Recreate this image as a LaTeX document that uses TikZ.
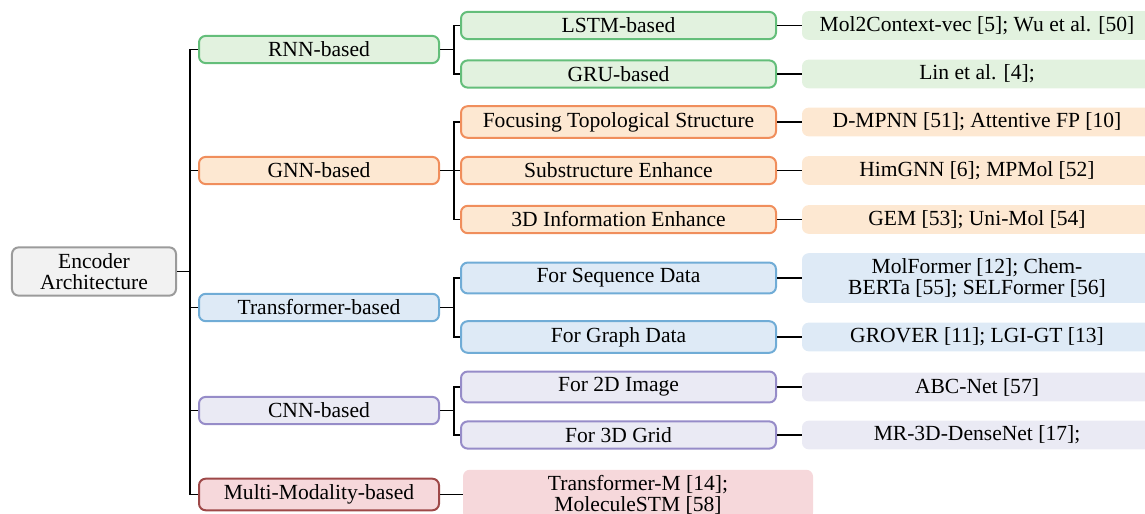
\documentclass[tikz,border=0pt]{standalone}
\usepackage{fontspec}
\setmainfont{Liberation Serif}

\definecolor{rootD}{RGB}{155,155,155}
\definecolor{rootL}{RGB}{242,242,242}
\definecolor{rnnD}{RGB}{100,190,122}
\definecolor{rnnL}{RGB}{226,242,223}
\definecolor{gnnD}{RGB}{240,142,92}
\definecolor{gnnL}{RGB}{253,232,210}
\definecolor{trfD}{RGB}{112,172,214}
\definecolor{trfL}{RGB}{222,234,246}
\definecolor{cnnD}{RGB}{150,140,200}
\definecolor{cnnL}{RGB}{234,234,244}
\definecolor{mmD}{RGB}{158,72,72}
\definecolor{mmL}{RGB}{246,216,219}

\begin{document}
\begin{tikzpicture}[x=0.45pt, y=-0.45pt, font=\fontsize{9.7}{9.5}\selectfont]
 % --- スタイル ---
 \tikzset{
    box/.style={
        rectangle,
        rounded corners=3pt,
        line width=0.9pt,
        inner xsep=2pt,
        inner ysep=2.7pt,
        align=center
    },
    root/.style={box, draw=rootD, fill=rootL, minimum width=73.8pt},
    family/.style={box, draw=#1D, fill=#1L, minimum width=108pt},
    method/.style={box, draw=#1D, fill=#1L, minimum width=141.75pt},
    work/.style={
        rectangle,
        rounded corners=3pt,
        fill=#1L,
        inner xsep=2pt,
        inner ysep=2.3pt,
        minimum width=157.5pt,
        minimum height=12.9pt,
        align=center
    },
    link/.style={line width=0.5pt}
 }
 \useasboundingbox (0,0) rectangle (1145,514);

 % --- ルート ---
 \node[root] (Root) at (94,271.5) {Encoder\\Architecture};
 \coordinate (Trunk) at (190,271.5);

 % --- 第1層 ---
 \node[family=rnn] (RNN)   at (319,49.5)  {RNN-based};
 \node[family=gnn] (GNN)   at (319,170.5) {GNN-based};
 \node[family=trf] (Trf)   at (319,307.5) {Transformer-based};
 \node[family=cnn] (CNN)   at (319,410.5) {CNN-based};
 \node[family=mm]  (Multi) at (319,494.5) {Multi-Modality-based};

 % --- 第2層 ---
 \node[method=rnn] (LSTM)  at (618.5,25.5)  {LSTM-based};
 \node[method=rnn] (GRU)   at (618.5,74)    {GRU-based};
 \node[method=gnn] (Topo)  at (618.5,122)   {Focusing Topological Structure};
 \node[method=gnn] (Sub)   at (618.5,170.5) {Substructure Enhance};
 \node[method=gnn] (ThreeD) at (618.5,219.5) {3D Information Enhance};
 \node[method=trf] (Seq)   at (618.5,278)   {For Sequence Data};
 \node[method=trf] (Graph) at (618.5,337)   {For Graph Data};
 \node[method=cnn] (Img)   at (618.5,387)   {For 2D Image};
 \node[method=cnn] (Grid)  at (618.5,435)   {For 3D Grid};

 % --- 文献 ---
 \node[work=rnn] (wLSTM)  at (977,25.5)  {Mol2Context-vec [5]; Wu et al. [50]};
 \node[work=rnn] (wGRU)   at (977,74)    {Lin et al. [4];};
 \node[work=gnn] (wTopo)  at (977,122)   {D-MPNN [51]; Attentive FP [10]};
 \node[work=gnn] (wSub)   at (977,170.5) {HimGNN [6]; MPMol [52]};
 \node[work=gnn] (wThreeD) at (977,219.5) {GEM [53]; Uni-Mol [54]};
 \node[work=trf] (wSeq)   at (977,278)   {MolFormer [12]; Chem-\\BERTa [55]; SELFormer [56]};
 \node[work=trf] (wGraph) at (977,337)   {GROVER [11]; LGI-GT [13]};
 \node[work=cnn] (wImg)   at (977,387)   {ABC-Net [57]};
 \node[work=cnn] (wGrid)  at (977,435)   {MR-3D-DenseNet [17];};
 \node[work=mm]  (wMulti) at (638,494.5) {Transformer-M [14];\\MoleculeSTM [58]};

 % --- 接続線 ---
 \draw[link] (Root.east) -- (Trunk);
 \foreach \f in {RNN,GNN,Trf,CNN,Multi}
    \draw[link] (Trunk) |- (\f.west);

 \foreach \f/\m in {RNN/LSTM,RNN/GRU,GNN/Topo,GNN/Sub,GNN/ThreeD,Trf/Seq,Trf/Graph,CNN/Img,CNN/Grid}
    \draw[link] (\f.east) -- +(6.3pt,0) |- (\m.west);

 \foreach \m in {LSTM,GRU,Topo,Sub,ThreeD,Seq,Graph,Img,Grid}
    \draw[link] (\m.east) -- (w\m.west);
 \draw[link] (Multi.east) -- (wMulti.west);
\end{tikzpicture}
\end{document}
